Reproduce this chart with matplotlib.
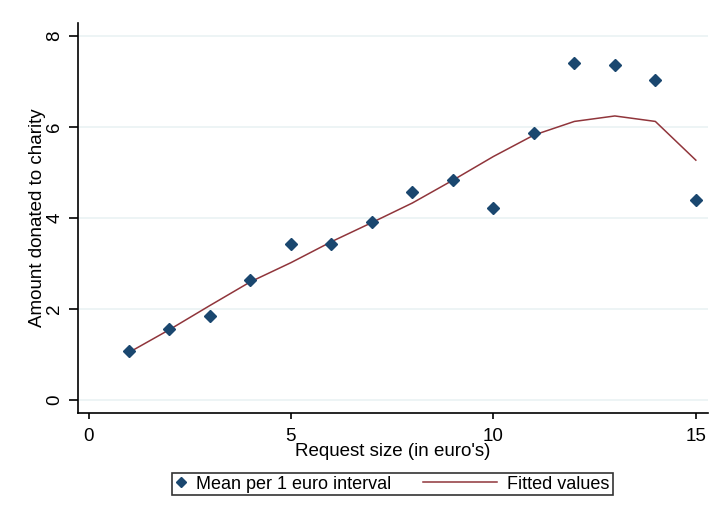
import numpy as np
import matplotlib
matplotlib.use("Agg")
import matplotlib.pyplot as plt
from matplotlib.lines import Line2D
from matplotlib.legend_handler import HandlerLine2D

# mean donation per request size
request_size = [1, 2, 3, 4, 5, 6, 7, 8, 9, 10, 11, 12, 13, 14, 15]
mean_donation = [1.08, 1.56, 1.85, 2.64, 3.43, 3.43, 3.91, 4.57, 4.84, 4.22,
                 5.87, 7.41, 7.36, 7.03, 4.40]
fitted = [1.05, 1.55, 2.08, 2.60, 3.02, 3.48, 3.90, 4.33, 4.83, 5.35,
          5.82, 6.12, 6.24, 6.12, 5.27]
xticks = [0, 5, 10, 15]
yticks = [0, 2, 4, 6, 8]

plt.rcParams['font.family'] = ['Liberation Sans', 'DejaVu Sans']

navy = '#1a476f'
maroon = '#90353b'


class LongLineHandler(HandlerLine2D):
    # legend line that reaches further left than the (short) handle box
    def create_artists(self, legend, orig_handle, xdescent, ydescent,
                       width, height, fontsize, trans):
        extra = 3.5 * fontsize
        y = (height - ydescent) / 2.0
        line = Line2D([-xdescent - extra, width - xdescent - 2], [y, y],
                      color=orig_handle.get_color(), lw=orig_handle.get_linewidth())
        line.set_transform(trans)
        return [line]


fig = plt.figure(figsize=(7.2, 5.28), dpi=100)
ax = fig.add_axes([0.1083, 0.2178, 0.875, 0.7386])

for y in yticks:
    ax.axhline(y, color='#eaf2f3', lw=1.2, zorder=0)

p1, = ax.plot(request_size, mean_donation, linestyle='none', marker='D',
              markersize=6, color=navy, label='Mean per 1 euro interval', zorder=3)
p2, = ax.plot(request_size, fitted, color=maroon, lw=1.1,
              label='Fitted values', zorder=2)

ax.set_xlim(-0.26, 15.3)
ax.set_ylim(-0.28, 8.28)
ax.set_xticks(xticks)
ax.set_yticks(yticks)
ax.set_yticklabels([str(t) for t in yticks], rotation=90, va='center')
ax.tick_params(axis='both', direction='out', width=1.2, labelsize=13.5,
               colors='black')
ax.tick_params(axis='x', length=4.5, pad=6)
ax.tick_params(axis='y', length=6.5, pad=4)
for side in ['top', 'right']:
    ax.spines[side].set_visible(False)
for side in ['left', 'bottom']:
    ax.spines[side].set_linewidth(1.2)

ax.set_xlabel("Request size (in euro's)", fontsize=13.5, labelpad=-1)
ax.set_ylabel("Amount donated to charity", fontsize=13.5, labelpad=0)

leg = fig.legend(handles=[p1, p2], loc='center', bbox_to_anchor=(0.545, 0.083),
                 ncol=2, fontsize=13, frameon=True, fancybox=False,
                 edgecolor='black', handlelength=0.7, columnspacing=5.3,
                 borderpad=0.15, handletextpad=0.45,
                 handler_map={p2: LongLineHandler()})
leg.get_frame().set_linewidth(1.2)
leg.legend_handles[0].set_markersize(5)

fig.savefig('out.png', dpi=100)
